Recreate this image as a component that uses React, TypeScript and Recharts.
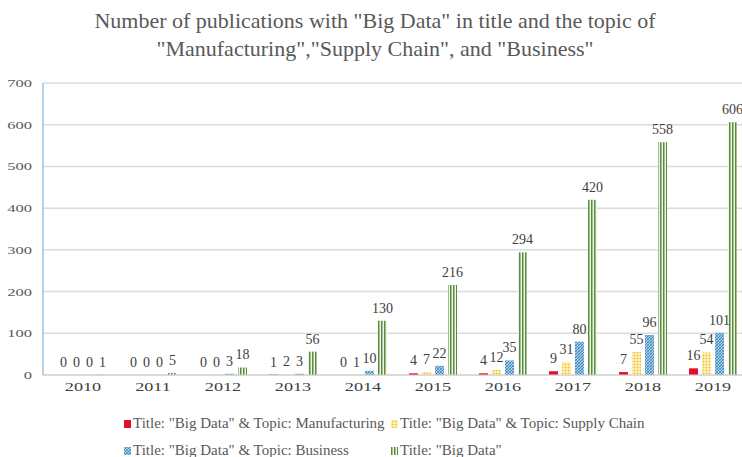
import React from "react";
import {
  BarChart,
  Bar,
  XAxis,
  YAxis,
  CartesianGrid,
  LabelList,
} from "recharts";

const years = ["2010", "2011", "2012", "2013", "2014", "2015", "2016", "2017", "2018", "2019"];
const manufacturing = [0, 0, 0, 1, 0, 4, 4, 9, 7, 16];
const supplyChain = [0, 0, 0, 2, 1, 7, 12, 31, 55, 54];
const business = [0, 0, 3, 3, 10, 22, 35, 80, 96, 101];
const bigData = [1, 5, 18, 56, 130, 216, 294, 420, 558, 606];
const yTicks = [0, 100, 200, 300, 400, 500, 600, 700];

const seriesKeys = ["manufacturing", "supplyChain", "business", "bigData"];
const seriesNames = [
  'Title: "Big Data" & Topic: Manufacturing',
  'Title: "Big Data" & Topic: Supply Chain',
  'Title: "Big Data" & Topic: Business',
  'Title: "Big Data"',
];

const data = years.map((year, i) => ({
  year,
  manufacturing: manufacturing[i],
  supplyChain: supplyChain[i],
  business: business[i],
  bigData: bigData[i],
}));

const serif = '"Liberation Serif", "Times New Roman", serif';

// tick labels in the source look horizontally stretched
const XTick = (props: any) => {
  const { x, y, payload } = props;
  return (
    <text
      transform={`translate(${x},${y + 8}) scale(1.4,1)`}
      textAnchor="middle"
      fontFamily={serif}
      fontSize={13}
      fill="#404040"
    >
      {payload.value}
    </text>
  );
};

const YTick = (props: any) => {
  const { y, payload } = props;
  return (
    <text
      transform={`translate(32,${y + 4}) scale(1.5,1)`}
      textAnchor="end"
      fontFamily={serif}
      fontSize={11}
      fill="#595959"
    >
      {payload.value}
    </text>
  );
};

const barLabel = (props: any) => {
  const { x, y, width, value } = props;
  return (
    <text
      x={x + width / 2}
      y={y - 8}
      textAnchor="middle"
      fontFamily={serif}
      fontSize={14}
      fill="#404040"
    >
      {value}
    </text>
  );
};

// zero bars get a tiny min size so their "0" label is kept, but draw nothing
const makeShape = (key: string, fill: string) => (props: any) => {
  const { x, y, width, height, payload } = props;
  if (!payload || payload[key] === 0) return <g />;
  return <rect x={x} y={y} width={width} height={height} fill={fill} />;
};

const fills = ["#e0102c", "url(#dots)", "url(#hatch)", "url(#stripes)"];

function LegendIcon({ fill }: { fill: string }) {
  return (
    <svg width={7} height={8} style={{ marginRight: 2 }}>
      <rect x={0} y={0} width={7} height={8} fill={fill} />
    </svg>
  );
}

function App() {
  return (
    <div
      style={{
        position: "absolute",
        left: 0,
        top: 0,
        width: 742,
        height: 457,
        overflow: "hidden",
        background: "#fff",
      }}
    >
      <svg width={0} height={0} style={{ position: "absolute" }}>
        <defs>
          <pattern id="dots" width={3} height={3} patternUnits="userSpaceOnUse">
            <rect width={3} height={3} fill="#fff4c4" />
            <circle cx={1.5} cy={1.5} r={1} fill="#f2c230" />
          </pattern>
          <pattern id="hatch" width={3} height={3} patternUnits="userSpaceOnUse">
            <rect width={3} height={3} fill="#a9cfe6" />
            <path d="M0,3 L3,0 M-1,1 L1,-1 M2,4 L4,2" stroke="#3a82b8" strokeWidth={0.9} />
            <path d="M0,0 L3,3" stroke="#3a82b8" strokeWidth={0.5} />
          </pattern>
          <pattern id="stripes" width={3} height={3} patternUnits="userSpaceOnUse">
            <rect width={3} height={3} fill="#eef5e8" />
            <rect x={0} width={1.5} height={3} fill="#5b8c3c" />
          </pattern>
        </defs>
      </svg>

      <div
        style={{
          position: "absolute",
          left: 0,
          top: 7,
          width: 750,
          textAlign: "center",
          fontFamily: serif,
          fontSize: 22,
          lineHeight: "28px",
          color: "#595959",
        }}
      >
        Number of publications with "Big Data" in title and the topic of
        <br />
        "Manufacturing","Supply Chain", and "Business"
      </div>

      <div style={{ position: "absolute", left: 0, top: 0 }}>
        <BarChart
          width={750}
          height={457}
          data={data}
          margin={{ top: 83, right: 2, left: 0, bottom: 52 }}
          barSize={9}
          barGap={4}
        >
          <CartesianGrid vertical={false} stroke="#dcdcdc" strokeWidth={1.5} />
          <XAxis
            dataKey="year"
            height={30}
            padding={{ left: 5, right: 0 }}
            axisLine={{ stroke: "#d0d0d0" }}
            tickLine={false}
            tick={<XTick />}
            interval={0}
          />
          <YAxis
            width={43}
            domain={[0, 700]}
            ticks={yTicks}
            axisLine={{ stroke: "#9dc3e6", strokeWidth: 1.5 }}
            tickLine={false}
            tick={<YTick />}
          />
          {seriesKeys.map((key, i) => (
            <Bar
              key={key}
              dataKey={key}
              fill={fills[i]}
              minPointSize={0.4}
              shape={makeShape(key, fills[i])}
              isAnimationActive={false}
            >
              <LabelList dataKey={key} content={barLabel} />
            </Bar>
          ))}
        </BarChart>
      </div>

      <div
        style={{
          position: "absolute",
          left: 124,
          top: 414,
          display: "grid",
          gridTemplateColumns: "267px auto",
          rowGap: 8,
          fontFamily: serif,
          fontSize: 15,
          lineHeight: "19px",
          color: "#595959",
        }}
      >
        {seriesNames.map((name, i) => (
          <div key={name} style={{ display: "flex", alignItems: "center", whiteSpace: "nowrap" }}>
            <LegendIcon fill={fills[i]} />
            {name}
          </div>
        ))}
      </div>
    </div>
  );
}

export default App;
